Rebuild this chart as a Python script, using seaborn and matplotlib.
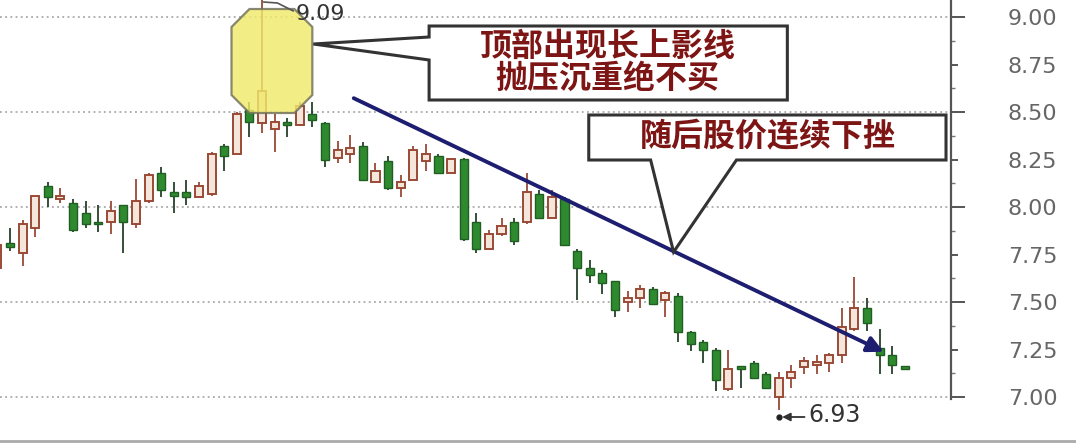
import matplotlib
matplotlib.use('Agg')
import matplotlib.pyplot as plt
import seaborn as sns
import pandas as pd
from matplotlib.patches import Polygon
from matplotlib.lines import Line2D

# daily candles (price)
open_ = [7.68, 7.81, 7.76, 7.89, 8.11, 8.04, 8.02, 7.97, 7.92, 7.92,
         8.01, 7.91, 8.03, 8.18, 8.08, 8.08, 8.05, 8.07, 8.32, 8.28,
         8.51, 8.44, 8.41, 8.45, 8.43, 8.49, 8.44, 8.26, 8.28, 8.32,
         8.13, 8.24, 8.10, 8.14, 8.24, 8.27, 8.18, 8.25, 7.92, 7.78,
         7.86, 7.92, 7.92, 8.07, 7.94, 8.04, 7.77, 7.68, 7.65, 7.61,
         7.50, 7.52, 7.57, 7.51, 7.53, 7.34, 7.29, 7.25, 7.04, 7.16,
         7.18, 7.12, 7.00, 7.10, 7.16, 7.17, 7.18, 7.22, 7.36, 7.47,
         7.26, 7.22, 7.16]
high = [7.83, 7.89, 7.93, 8.06, 8.13, 8.10, 8.04, 8.03, 8.01, 8.03,
        8.01, 8.15, 8.18, 8.21, 8.13, 8.14, 8.13, 8.29, 8.33, 8.50,
        8.55, 9.09, 8.49, 8.47, 8.55, 8.55, 8.45, 8.35, 8.38, 8.34,
        8.23, 8.27, 8.17, 8.32, 8.33, 8.28, 8.25, 8.26, 7.97, 7.88,
        7.94, 7.94, 8.18, 8.09, 8.09, 8.05, 7.78, 7.72, 7.67, 7.61,
        7.56, 7.59, 7.58, 7.56, 7.55, 7.35, 7.30, 7.26, 7.25, 7.16,
        7.19, 7.13, 7.13, 7.17, 7.21, 7.22, 7.23, 7.47, 7.63, 7.52,
        7.36, 7.27, 7.16]
low = [7.66, 7.77, 7.69, 7.84, 8.00, 8.02, 7.87, 7.89, 7.87, 7.86,
       7.76, 7.89, 8.02, 8.05, 7.97, 8.01, 8.05, 8.06, 8.19, 8.28,
       8.37, 8.39, 8.29, 8.37, 8.43, 8.42, 8.21, 8.23, 8.23, 8.14,
       8.13, 8.09, 8.05, 8.14, 8.19, 8.18, 8.18, 7.82, 7.76, 7.78,
       7.85, 7.80, 7.91, 7.94, 7.94, 7.80, 7.51, 7.60, 7.54, 7.42,
       7.45, 7.47, 7.49, 7.42, 7.29, 7.24, 7.18, 7.03, 7.03, 7.05,
       7.10, 7.05, 6.93, 7.05, 7.12, 7.12, 7.13, 7.18, 7.35, 7.35,
       7.12, 7.12, 7.15]
close = [7.80, 7.79, 7.91, 8.06, 8.05, 8.06, 7.88, 7.91, 7.91, 7.98,
         7.92, 8.03, 8.17, 8.09, 8.06, 8.05, 8.11, 8.28, 8.27, 8.49,
         8.45, 8.61, 8.45, 8.43, 8.53, 8.46, 8.25, 8.30, 8.31, 8.14,
         8.19, 8.10, 8.13, 8.30, 8.28, 8.18, 8.25, 7.83, 7.78, 7.86,
         7.90, 7.82, 8.08, 7.94, 8.05, 7.80, 7.68, 7.64, 7.60, 7.46,
         7.52, 7.57, 7.49, 7.55, 7.34, 7.28, 7.25, 7.09, 7.15, 7.15,
         7.10, 7.05, 7.10, 7.13, 7.19, 7.18, 7.22, 7.37, 7.47, 7.39,
         7.22, 7.17, 7.15]

price_ticks = [7.00, 7.25, 7.50, 7.75, 8.00, 8.25, 8.50, 8.75, 9.00]
top_text = ['顶部出现长上影线', '抛压沉重绝不买']
follow_text = '随后股价连续下挫'
peak_label = '9.09'
low_label = '6.93'

df = pd.DataFrame({'open': open_, 'high': high, 'low': low, 'close': close})
df['day'] = range(len(df))
df['up'] = df['close'] >= df['open']

sns.set_theme(style='white')
plt.rcParams['font.family'] = ['Noto Sans CJK SC', 'DejaVu Sans']

fig = plt.figure(figsize=(10.76, 4.44), dpi=100)
ax = fig.add_axes([0, 14 / 444, 951 / 1076, 430 / 444])

# helpers to place decorations in the picture's pixel frame
step = 12.63
def px(x):
    return 1 + (x - 8) / step
def py(y):
    return 7 + (397 - y) / 190

ax.set_xlim(px(-2), px(951))
ax.set_ylim(py(430), py(0))

# grid
for g in [7.0, 7.5, 8.0, 8.5, 9.0]:
    ax.axhline(g, color='#9a9a9a', lw=1.1, ls=(0, (1.2, 2.2)), zorder=0)

# candles
w = 0.64
up = df[df['up']]
dn = df[~df['up']]
ax.vlines(up['day'], up['low'], up['high'], color='#9a4a36', lw=1.3, zorder=2)
ax.vlines(dn['day'], dn['low'], dn['high'], color='#25402a', lw=1.3, zorder=2)
ax.bar(up['day'], (up['close'] - up['open']).clip(lower=0.012), bottom=up['open'],
       width=w, facecolor='#f4e6da', edgecolor='#9a4a36', lw=1.4, zorder=3)
ax.bar(dn['day'], (dn['open'] - dn['close']).clip(lower=0.012), bottom=dn['close'],
       width=w, facecolor='#2f8a2f', edgecolor='#1f5f22', lw=1.0, zorder=3)

# yellow highlight on the long upper shadow
octa = [(248, 9), (293, 9), (311, 27), (311, 95), (293, 113), (248, 113), (230, 95), (230, 27)]
ax.add_patch(Polygon([(px(a), py(b)) for a, b in octa], closed=True, facecolor='#f1ea6a',
                     edgecolor='#6f6f5a', lw=1.6, alpha=0.82, zorder=4))

# peak label
ax.plot([px(262), px(276), px(292)], [py(2), py(3), py(11)], color='#555555', lw=1.2, zorder=5)
ax.text(px(294), py(14), peak_label, fontsize=16, color='#333333', family='DejaVu Sans',
        va='center', ha='left', zorder=5)

# callout 1
c1 = [(428, 26), (787, 26), (787, 100), (428, 100), (428, 60), (312, 44), (428, 37)]
ax.add_patch(Polygon([(px(a), py(b)) for a, b in c1], closed=True, facecolor='white',
                     edgecolor='#333333', lw=2.2, zorder=6))
ax.text(px(607), py(47), top_text[0], fontsize=23, fontweight='bold', color='#7d1515',
        ha='center', va='center', zorder=7)
ax.text(px(607), py(79), top_text[1], fontsize=23, fontweight='bold', color='#7d1515',
        ha='center', va='center', zorder=7)

# trend arrow
ax.annotate('', xy=(px(886), py(353)), xytext=(px(350), py(97)),
            arrowprops=dict(arrowstyle='-|>', color='#1e1e70', lw=2.8, mutation_scale=24),
            zorder=5)

# callout 2
c2 = [(588, 115), (946, 115), (946, 160), (736, 160), (673, 252), (650, 160), (588, 160)]
ax.add_patch(Polygon([(px(a), py(b)) for a, b in c2], closed=True, facecolor='white',
                     edgecolor='#333333', lw=2.2, zorder=6))
ax.text(px(767), py(137), follow_text, fontsize=23, fontweight='bold', color='#7d1515',
        ha='center', va='center', zorder=7)

# low label
ax.annotate('', xy=(px(779), py(417)), xytext=(px(807), py(417)),
            arrowprops=dict(arrowstyle='-|>', color='#333333', lw=1.3, mutation_scale=12),
            zorder=5)
ax.plot([px(779)], [py(417)], 'o', color='#222222', ms=3.5, zorder=5)
ax.text(px(808), py(415), low_label, fontsize=17, color='#333333', family='DejaVu Sans',
        va='center', ha='left', zorder=5)

# right axis
sns.despine(ax=ax, left=True, bottom=True, top=True, right=False)
ax.spines['right'].set_color('#555555')
ax.spines['right'].set_linewidth(1.6)
ax.spines['right'].set_bounds(6.99, py(0))
ax.set_xticks([])
ax.yaxis.tick_right()
ax.set_yticks(price_ticks)
ax.set_yticklabels([f'{t:.2f}' for t in price_ticks], family='DejaVu Sans')
ax.set_yticks([t + 0.125 for t in price_ticks[:-1]], minor=True)
ax.tick_params(axis='y', which='major', direction='out', length=5, width=1.4,
               color='#555555', pad=36, labelsize=16, labelcolor='#666666')
ax.tick_params(axis='y', which='minor', direction='out', length=3, width=1.0,
               color='#777777', right=True)
for t, v in zip(ax.yaxis.get_major_ticks(), price_ticks):
    if abs(v * 2 - round(v * 2)) < 1e-6:
        t.tick2line.set_markersize(10)

fig.add_artist(Line2D([0, 1], [3 / 444, 3 / 444], color='#aaaaaa', lw=2))

fig.savefig('out.png', dpi=100, facecolor='white')
